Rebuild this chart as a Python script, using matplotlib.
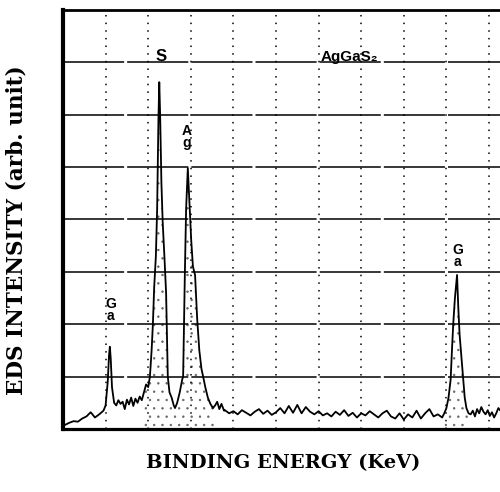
import matplotlib
matplotlib.use("Agg")
import matplotlib.pyplot as plt
import numpy as np

# EDS spectrum of AgGaS2 (x in keV, y in arb. units, 100 per grid row)
energy_kev = [
    0.05, 0.15, 0.25, 0.35, 0.45, 0.55, 0.65, 0.75, 0.85, 0.95,
    1.00, 1.05, 1.08, 1.10, 1.12, 1.15, 1.20, 1.25, 1.30, 1.35,
    1.40, 1.45, 1.50, 1.55, 1.60, 1.65, 1.70, 1.75, 1.80, 1.85,
    1.90, 1.95, 2.00, 2.04, 2.08, 2.11, 2.14, 2.18, 2.21, 2.24,
    2.26, 2.28, 2.31, 2.34, 2.38, 2.42, 2.44, 2.46, 2.50, 2.55,
    2.60, 2.63, 2.68, 2.74, 2.80, 2.82, 2.84, 2.86, 2.89, 2.93,
    2.97, 3.01, 3.05, 3.10, 3.15, 3.20, 3.25, 3.29, 3.34, 3.40,
    3.46, 3.52, 3.57, 3.62, 3.67, 3.72, 3.78,
    3.8, 3.9, 4.0, 4.1, 4.2, 4.3, 4.4, 4.5, 4.6, 4.7,
    4.8, 4.9, 5.0, 5.1, 5.2, 5.3, 5.4, 5.5, 5.6, 5.7,
    5.8, 5.9, 6.0, 6.1, 6.2, 6.3, 6.4, 6.5, 6.6, 6.7,
    6.8, 6.9, 7.0, 7.1, 7.2, 7.3, 7.4, 7.5, 7.6, 7.7,
    7.8, 7.9, 8.0, 8.1, 8.2, 8.3, 8.4, 8.5, 8.6, 8.7,
    8.8, 8.9, 8.95, 9.00, 9.05, 9.10, 9.13, 9.16, 9.20, 9.25,
    9.28, 9.31, 9.35, 9.39, 9.43, 9.47, 9.52, 9.57, 9.62, 9.67,
    9.72, 9.77, 9.82, 9.87, 9.92, 9.97, 10.02, 10.07, 10.12, 10.17,
    10.22, 10.27, 10.32, 10.37, 10.45,
]
counts = [
    8, 12, 15, 14, 20, 24, 32, 22, 28, 35,
    45, 90, 140, 157, 135, 80, 50, 45, 55, 48,
    52, 38, 56, 47, 60, 44, 58, 50, 62, 55,
    70, 85, 80, 100, 150, 200, 270, 330, 420, 590,
    662, 600, 470, 395, 330, 260, 180, 100, 70, 60,
    45, 40, 50, 70, 95, 100, 200, 294, 420, 498,
    430, 360, 310, 294, 210, 150, 115, 100, 80, 60,
    48, 40, 45, 52, 38, 48, 35,
    36, 30, 34, 28, 36, 31, 26, 33, 38, 29,
    35, 27, 32, 40, 30, 44, 31, 46, 30, 42,
    33, 28, 34, 26, 30, 24, 33, 27, 36, 25,
    31, 22, 30, 26, 34, 28, 22, 30, 35, 24,
    20, 30, 18, 28, 22, 35, 20, 30, 38, 24,
    28, 22, 30, 40, 60, 95, 150, 200, 250, 294,
    230, 180, 140, 100, 60, 40, 30, 28, 35, 24,
    38, 30, 42, 33, 28, 36, 25, 32, 22, 30,
    40, 35, 48, 30, 35,
]

# peak labels: (text, energy, height in grid rows, font size)
peak_labels = [("G\na", 1.12, 2.27, 10), ("S", 2.30, 7.1, 12), ("A\ng", 2.91, 5.57, 10), ("G\na", 9.27, 3.3, 10)]

# stippled bands under the main peaks in the scan
stipple_ranges = [(1.9, 3.6), (8.95, 9.55)]

plt.rcParams["hatch.linewidth"] = 0.5

fig = plt.figure(figsize=(5, 4.92), dpi=100)
# right edge of the frame runs off the page in the scan
ax = fig.add_axes([0.126, 0.128, 0.8946, 0.852])

e = np.array(energy_kev)
c = np.array(counts)
for lo, hi in stipple_ranges:
    m = (e >= lo) & (e <= hi)
    ax.fill_between(e[m], 0, c[m], facecolor="none", edgecolor="#666666", hatch="..", lw=0)

ax.plot(energy_kev, counts, color="black", lw=1.3)

ax.set_xlim(0, 10.5)
ax.set_ylim(0, 800)
ax.set_xticks(range(1, 11))
ax.set_yticks(range(100, 800, 100))
ax.tick_params(length=0, labelleft=False, labelbottom=False)
ax.grid(axis="y", color="black", lw=1.1, linestyle=(0, (40, 2)))
ax.grid(axis="x", color="black", lw=1.1, linestyle=(0, (1, 4)))

ax.spines["left"].set_linewidth(3)
ax.spines["bottom"].set_linewidth(2.3)
ax.spines["top"].set_linewidth(2)
ax.spines["right"].set_visible(False)

for txt, x, y, fs in peak_labels:
    ax.text(x, y * 100, txt, ha="center", va="center", fontsize=fs, fontweight="bold",
            family=["Liberation Sans", "DejaVu Sans"], linespacing=0.85)

ax.text(0.575, 0.888, "AgGaS\u2082", transform=ax.transAxes, fontsize=11, fontweight="bold",
        family=["Liberation Sans", "DejaVu Sans"], va="center")

fig.text(0.566, 0.059, "BINDING ENERGY (KeV)", ha="center", va="center",
         fontsize=14, fontweight="bold", family="DejaVu Serif")
fig.text(0.034, 0.532, "EDS INTENSITY (arb. unit)", ha="center", va="center", rotation=90,
         fontsize=15.5, fontweight="bold", family="DejaVu Serif")

fig.savefig("out.png", dpi=100)
